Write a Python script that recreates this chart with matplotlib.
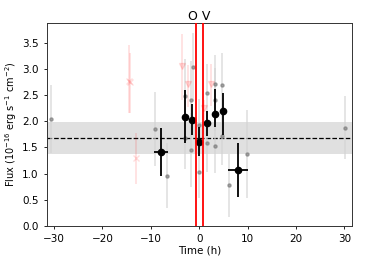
import numpy as np
import matplotlib
matplotlib.use('Agg')
import matplotlib.pyplot as plt

# individual measurements (grey)
grey_t = [-30.6, -9.1, -6.7, -2.9, -2.9, -1.6, -1.6, -1.2, 0.0, 0.0, 1.7, 1.7,
          3.3, 3.3, 3.3, 4.8, 4.8, 6.2, 9.8, 30.2]
grey_f = [2.05, 1.85, 0.96, 2.49, 1.68, 2.41, 1.45, 3.03, 1.93, 1.04, 2.55, 1.58,
          2.71, 2.41, 1.52, 2.70, 1.72, 0.78, 1.38, 1.88]
grey_err = [0.65, 0.71, 0.62, 0.70, 0.60, 0.75, 0.70, 0.65, 0.50, 0.50, 0.55, 0.55,
            0.55, 0.60, 0.50, 0.60, 0.55, 0.60, 0.84, 0.60]

# binned averages (black)
blk_t = [-7.9, -3.0, -1.5, 0.0, 1.65, 3.3, 4.9, 8.0]
blk_f = [1.41, 2.08, 2.03, 1.61, 1.97, 2.14, 2.20, 1.07]
blk_lo = [0.46, 0.50, 0.29, 0.28, 0.25, 0.24, 0.46, 0.52]
blk_hi = [0.46, 0.51, 0.30, 0.29, 0.23, 0.47, 0.35, 0.52]
blk_xerr = [1.5, 0.3, 0.3, 0.3, 0.3, 0.3, 0.3, 2.1]

# rejected points (pink)
rej_x_t = [-14.6, -14.3, -13.1]
rej_x_f = [2.78, 2.76, 1.29]
rej_x_lo = [0.62, 0.60, 0.49]
rej_x_hi = [0.68, 0.55, 0.49]
rej_v_t = [-3.6, -2.3, 0.9, 2.5]
rej_v_f = [3.05, 2.72, 2.26, 2.72]
rej_v_lo = [0.64, 0.45, 0.26, 0.42]
rej_v_hi = [0.62, 0.36, 0.15, 0.38]

mean_flux = 1.68
band = (1.37, 1.99)
transit = (-0.6, 0.85)

fig = plt.figure(figsize=(3.66, 2.64), dpi=100)
ax = fig.add_axes([0.128, 0.144, 0.834, 0.769])

ax.axhspan(band[0], band[1], color='lightgray', alpha=0.7, lw=0, zorder=0)
ax.axhline(mean_flux, color='k', ls='--', lw=0.9, zorder=1)

ax.errorbar(grey_t, grey_f, yerr=grey_err, fmt='o', ms=2.2, color='gray',
            ecolor='lightgray', elinewidth=1.2, alpha=0.7, zorder=2)
ax.errorbar(rej_x_t, rej_x_f, yerr=[rej_x_lo, rej_x_hi], fmt='x', ms=5,
            color='red', alpha=0.13, elinewidth=1.2, zorder=2)
ax.errorbar(rej_v_t, rej_v_f, yerr=[rej_v_lo, rej_v_hi], fmt='v', ms=4,
            color='red', alpha=0.13, elinewidth=1.2, zorder=2)
ax.errorbar(blk_t, blk_f, xerr=blk_xerr, yerr=[blk_lo, blk_hi], fmt='o', ms=4.5,
            color='k', elinewidth=1.3, zorder=3)

for t in transit:
    ax.axvline(t, color='red', lw=1.3, zorder=4)

ax.set_xlim(-31.5, 31.6)
ax.set_ylim(0, 3.88)
ax.set_xticks([-30, -20, -10, 0, 10, 20, 30])
ax.set_yticks(np.arange(0, 3.6, 0.5))
ax.tick_params(labelsize=7.5, length=2.5, width=0.6)
for s in ax.spines.values():
    s.set_linewidth(0.7)
    s.set_color('#333333')
ax.set_xlabel('Time (h)', fontsize=7.5, labelpad=1)
ax.set_ylabel(r'Flux (10$^{-16}$ erg s$^{-1}$ cm$^{-2}$)', fontsize=7, labelpad=2)
ax.set_title('O V', fontsize=9, pad=2)

fig.savefig('out.png', dpi=100)
